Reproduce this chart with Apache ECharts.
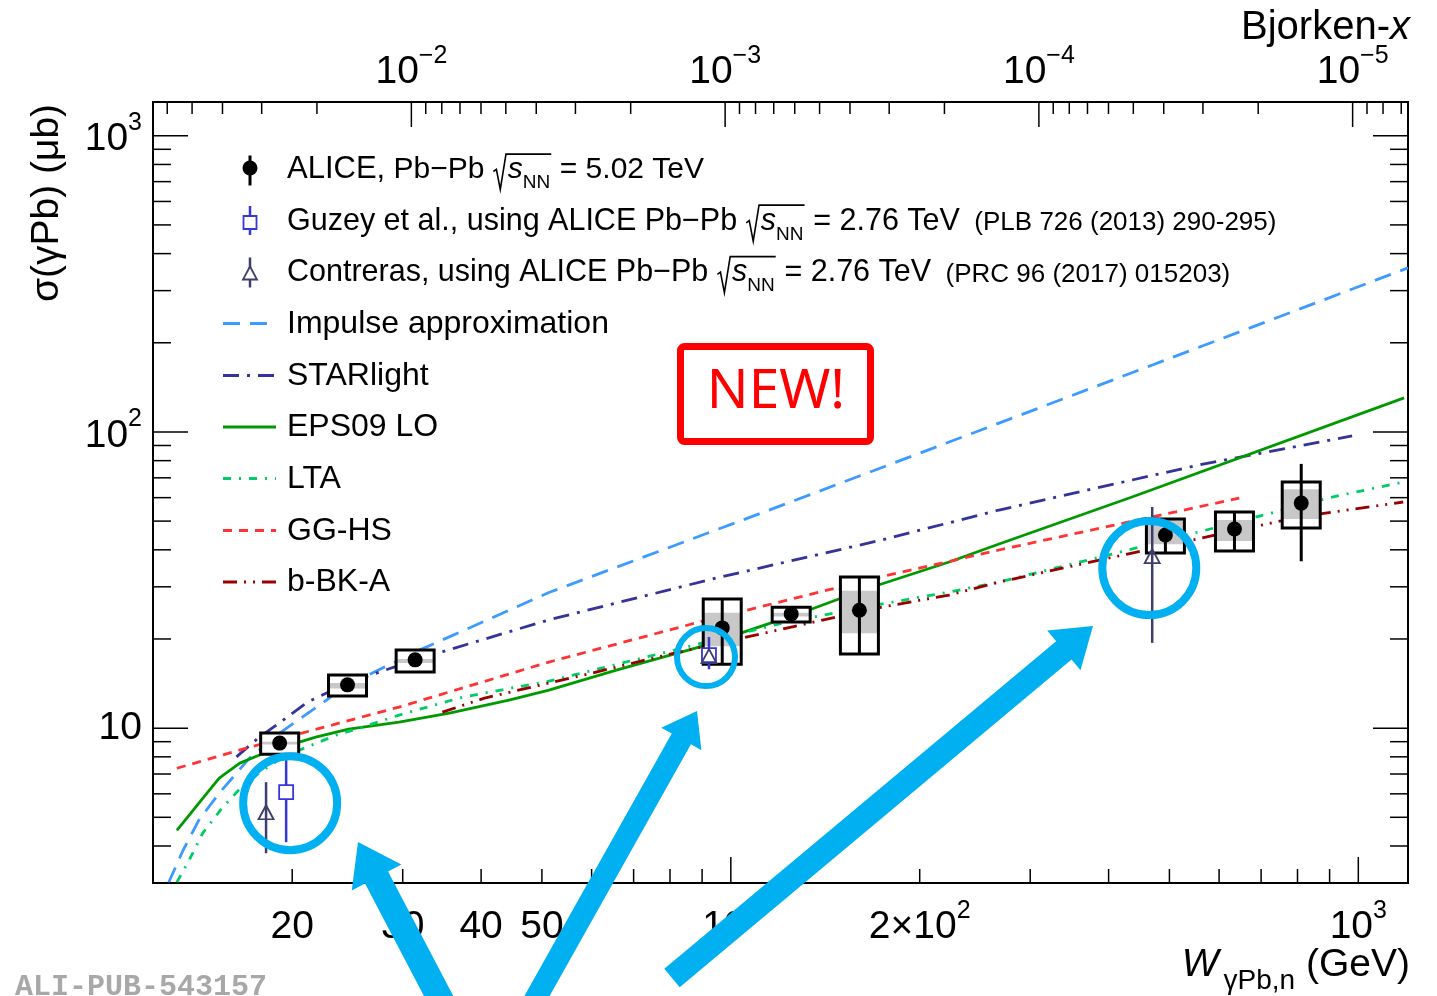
<!DOCTYPE html>
<html>
<head>
<meta charset="utf-8">
<title>Coherent J/psi photoproduction off Pb</title>
<script src="https://cdn.jsdelivr.net/npm/echarts@6/dist/echarts.min.js"></script>
<style>
  html, body { margin: 0; padding: 0; background: #ffffff; }
  #chart { width: 1437px; height: 996px; }
</style>
</head>
<body>
<div id="chart"></div>
<script>
// ---------------- axis ranges ----------------
const W_MIN = 12, W_MAX = 1200;          // GeV
const SIG_MIN = 3, SIG_MAX = 1300;       // microbarn
const M_JPSI = 3.097;                    // GeV, Bjorken-x = (M/W)^2

// ---------------- ALICE Pb-Pb 5.02 TeV ----------------
const aliceW        = [19.1, 24.5, 31.4, 96.9, 124.8, 160.3, 492.7, 634.8, 811];
const aliceSigma    = [8.9, 14.0, 17.0, 21.8, 24.3, 25.0, 44.9, 47.0, 57.5];
const aliceStatLow  = [8.6, 13.6, 16.6, 16.5, 23.6, 17.9, 38.8, 39.6, 36.6];
const aliceStatHigh = [9.2, 14.4, 17.4, 27.2, 25.0, 32.3, 51.0, 53.7, 78.0];
const aliceSysLow   = [8.17, 12.83, 15.46, 16.44, 22.8, 17.8, 39.0, 39.6, 47.4];
const aliceSysHigh  = [9.62, 15.1, 18.34, 27.3, 25.6, 32.4, 50.8, 53.7, 67.7];
const aliceCorrLow  = [8.8, 13.6, 16.6, 18.9, 23.8, 20.9, 41.8, 42.8, 50.8];
const aliceCorrHigh = [9.0, 14.2, 17.1, 24.5, 24.5, 29.1, 50.8, 50.4, 64.1];

// ---------------- Guzey et al. (ALICE 2.76 TeV) ----------------
const guzeyW     = [19.56, 92.3];
const guzeySigma = [6.08, 17.65];
const guzeyLow   = [4.12, 15.8];
const guzeyHigh  = [7.8, 20.3];

// ---------------- Contreras (ALICE 2.76 TeV) ----------------
const contrerasW     = [18.17, 92.3, 469.4];
const contrerasSigma = [5.2, 17.5, 38.1];
const contrerasLow   = [3.78, 16.5, 19.4];
const contrerasHigh  = [6.57, 18.6, 55.8];

// ---------------- model curves ----------------
const impulseW      = [12.7, 13.4, 14.2, 15.3, 17.1, 19.1, 22.1, 24.5, 31.9, 51.3, 127, 310, 1200];
const impulseSigma  = [3.0, 3.87, 4.89, 6.03, 7.92, 9.62, 11.96, 13.97, 18.34, 28.7, 58.9, 120.5, 358];
const starlightW     = [16.3, 17.7, 19.3, 21.1, 24.5, 31.4, 51.3, 94.7, 174.2, 267.6, 557.6, 977.5];
const starlightSigma = [8.0, 9.3, 10.6, 12.2, 14.2, 17.0, 23.2, 32.1, 43.2, 54.5, 77.4, 96.9];
const eps09W     = [13.1, 14.2, 15.3, 16.5, 17.7, 19.8, 21.8, 24.6, 29.6, 35.6, 44.3, 51.3, 65.7, 89.0, 133.3, 162.5, 222.8, 267.6, 435.9, 1183];
const eps09Sigma = [4.52, 5.58, 6.78, 7.62, 8.10, 8.76, 9.32, 9.92, 10.48, 11.24, 12.43, 13.44, 15.70, 18.77, 25.04, 29.26, 36.37, 41.84, 60.3, 130.3];
const ltaW     = [13.1, 13.7, 14.4, 15.5, 16.6, 17.7, 19.3, 21.1, 23.5, 25.9, 29.6, 37.4, 51.3, 81.2, 104.2, 120.7, 170.4, 222.8, 267.6, 411.4, 572.3, 908.7, 1183];
const ltaSigma = [3.02, 3.58, 4.42, 5.41, 6.32, 7.05, 7.98, 8.63, 9.47, 10.08, 11.07, 12.73, 14.41, 18.34, 20.94, 22.62, 26.03, 28.81, 31.13, 39.01, 46.66, 60.3, 67.8];
const gghsW     = [13.1, 16.9, 19.9, 29.6, 51.3, 89.0, 170.4, 267.6, 646];
const gghsSigma = [7.32, 8.56, 9.40, 11.78, 16.71, 22.81, 32.13, 39.94, 59.8];
const bbkW     = [34.7, 40.5, 51.3, 60.1, 75.2, 105.8, 133.3, 174.2, 222.8, 267.6, 435.9, 804.5, 1179];
const bbkSigma = [11.32, 12.63, 14.19, 15.34, 17.24, 20.30, 22.62, 25.63, 28.14, 31.13, 39.01, 51.6, 58.0];

// ---------------- tick labels ----------------
const xLabelValues = [20, 30, 40, 50, 100, 200, 1000];
const xLabelTexts  = ['20', '30', '40', '50', '10^2', '2\u00d710^2', '10^3'];
const yLabelValues = [10, 100, 1000];
const yLabelTexts  = ['10', '10^2', '10^3'];
const bjorkenLabelValues = [1e-2, 1e-3, 1e-4, 1e-5];
const bjorkenLabelTexts  = ['10^\u22122', '10^\u22123', '10^\u22124', '10^\u22125'];

// ---------------- highlighted points (W, sigma) ----------------
const highlightW      = [19.85, 91.3, 464.4];
const highlightSigma  = [5.58, 17.38, 34.7];
const highlightRadius = [47, 29, 47];

// ---------------- text helpers ----------------
const FONT = "'Liberation Sans', Arial, Helvetica, sans-serif";
const MID = 0.35; // baseline offset below the em middle, in font sizes
const measureCtx = document.createElement('canvas').getContext('2d');
function fontStr(size, italic) { return (italic ? 'italic ' : '') + size + 'px ' + FONT; }
function textWidth(t, f) { measureCtx.font = f; return measureCtx.measureText(t).width; }

// Lays out a run of text pieces (with optional sub/superscript shifts and a square root)
// on a common baseline and returns zrender element specs.
function runElements(segs, x, baseline, align, color) {
  const items = [];
  let cx = 0;
  const addPiece = (q) => {
    const f = fontStr(q.size, q.italic);
    cx += q.pad || 0;
    const w = textWidth(q.t, f);
    items.push({ t: q.t, f: f, size: q.size, x: cx, dy: q.dy || 0 });
    cx += w;
  };
  segs.forEach((s) => {
    if (s.sqrt) {
      const start = cx;
      cx += 0.5 * s.size;
      s.sqrt.forEach(addPiece);
      items.push({ radical: true, x0: start, x1: cx + 1, S: s.size });
      cx += 0.04 * s.size;
    } else {
      addPiece(s);
    }
  });
  const off = align === 'right' ? -cx : (align === 'center' ? -cx / 2 : 0);
  const els = [];
  items.forEach((it) => {
    if (it.radical) {
      const x0 = x + off + it.x0, x1 = x + off + it.x1, S = it.S, b = baseline;
      els.push({
        type: 'polyline',
        shape: { points: [[x0 + 0.02 * S, b - 0.30 * S], [x0 + 0.12 * S, b - 0.37 * S], [x0 + 0.25 * S, b + 0.30 * S], [x0 + 0.44 * S, b - 0.88 * S], [x1, b - 0.88 * S]] },
        style: { stroke: color, lineWidth: 1.6, fill: 'none' }
      });
    } else {
      els.push({
        type: 'text',
        x: x + off + it.x,
        y: baseline + it.dy - MID * it.size,
        style: { text: it.t, font: it.f, fill: color, align: 'left', verticalAlign: 'middle' }
      });
    }
  });
  return els;
}

function labelSegs(str, size, supSize) {
  const parts = str.split('^');
  const segs = [{ t: parts[0], size: size }];
  if (parts.length > 1) segs.push({ t: parts[1], size: supSize, dy: -0.55 * size });
  return segs;
}

// tick positions 1..9 x 10^k inside [lo, hi]; flag 1 marks a decade
function logTicks(lo, hi) {
  const out = [];
  for (let e = Math.floor(Math.log10(lo)) - 1; e <= Math.ceil(Math.log10(hi)); e++) {
    for (let m = 1; m <= 9; m++) {
      const v = m * Math.pow(10, e);
      if (v >= lo * 0.9999 && v <= hi * 1.0001) out.push([v, m === 1 ? 1 : 0]);
    }
  }
  return out;
}

const zip = (xs, ys) => xs.map((x, i) => [x, ys[i]]);

// ---------------- styles ----------------
const MODELS = [
  { name: 'Impulse approximation', xs: impulseW, ys: impulseSigma, color: '#3d9bff', dash: [17, 10] },
  { name: 'STARlight', xs: starlightW, ys: starlightSigma, color: '#333399', dash: [16, 8, 3, 8] },
  { name: 'EPS09 LO', xs: eps09W, ys: eps09Sigma, color: '#009900', dash: 'solid' },
  { name: 'LTA', xs: ltaW, ys: ltaSigma, color: '#00cc66', dash: [8, 8, 2, 8] },
  { name: 'GG-HS', xs: gghsW, ys: gghsSigma, color: '#ff3333', dash: [9, 7] },
  { name: 'b-BK-A', xs: bbkW, ys: bbkSigma, color: '#990000', dash: [14, 7, 2, 7, 2, 7] }
];
const LINE_W = 2.8;
const GUZEY_COLOR = '#3737d2';
const CONTRERAS_COLOR = '#3d3d6e';
const BOX_HALF_PX = 19;

const BJ_MIN = Math.pow(M_JPSI / W_MAX, 2);
const BJ_MAX = Math.pow(M_JPSI / W_MIN, 2);

const chart = echarts.init(document.getElementById('chart'), null, { renderer: 'canvas', width: 1437, height: 996 });

const series = [];

MODELS.forEach((m) => {
  series.push({
    name: m.name, type: 'line', xAxisIndex: 0, yAxisIndex: 0, z: 2,
    data: zip(m.xs, m.ys), showSymbol: false, symbol: 'none', smooth: false, clip: true, silent: true,
    lineStyle: { color: m.color, width: LINE_W, type: m.dash }
  });
});

// systematic boxes with the correlated part shaded
series.push({
  name: 'ALICE syst', type: 'custom', xAxisIndex: 0, yAxisIndex: 0, z: 3, clip: true, silent: true,
  data: aliceW.map((w, i) => [w, aliceSysLow[i], aliceSysHigh[i], aliceCorrLow[i], aliceCorrHigh[i]]),
  renderItem(params, api) {
    const w = api.value(0);
    const pLo = api.coord([w, api.value(1)]), pHi = api.coord([w, api.value(2)]);
    const cLo = api.coord([w, api.value(3)]), cHi = api.coord([w, api.value(4)]);
    const x0 = pLo[0] - BOX_HALF_PX;
    return {
      type: 'group',
      children: [
        { type: 'rect', shape: { x: x0, y: pHi[1], width: 2 * BOX_HALF_PX, height: pLo[1] - pHi[1] }, style: { fill: '#ffffff' } },
        { type: 'rect', shape: { x: x0, y: cHi[1], width: 2 * BOX_HALF_PX, height: Math.max(cLo[1] - cHi[1], 2) }, style: { fill: '#c8c8c8' } },
        { type: 'rect', shape: { x: x0, y: pHi[1], width: 2 * BOX_HALF_PX, height: pLo[1] - pHi[1] }, style: { fill: 'none', stroke: '#000000', lineWidth: 3 } }
      ]
    };
  }
});

function errorBarSeries(name, xs, lo, hi, color, width, z) {
  return {
    name: name, type: 'custom', xAxisIndex: 0, yAxisIndex: 0, z: z, clip: true, silent: true,
    data: xs.map((w, i) => [w, lo[i], hi[i]]),
    renderItem(params, api) {
      const a = api.coord([api.value(0), api.value(1)]);
      const b = api.coord([api.value(0), api.value(2)]);
      return { type: 'line', shape: { x1: a[0], y1: a[1], x2: b[0], y2: b[1] }, style: { stroke: color, lineWidth: width } };
    }
  };
}
series.push(errorBarSeries('Contreras err', contrerasW, contrerasLow, contrerasHigh, CONTRERAS_COLOR, 2.5, 4));
series.push(errorBarSeries('Guzey err', guzeyW, guzeyLow, guzeyHigh, GUZEY_COLOR, 2.5, 4));
series.push(errorBarSeries('ALICE stat', aliceW, aliceStatLow, aliceStatHigh, '#000000', 3, 4));

series.push({
  name: 'Guzey et al.', type: 'scatter', xAxisIndex: 0, yAxisIndex: 0, z: 5, silent: true,
  data: zip(guzeyW, guzeySigma), symbol: 'rect', symbolSize: 14,
  itemStyle: { color: '#ffffff', borderColor: GUZEY_COLOR, borderWidth: 1.8, opacity: 1 }
});
series.push({
  name: 'Contreras', type: 'scatter', xAxisIndex: 0, yAxisIndex: 0, z: 5, silent: true,
  data: zip(contrerasW, contrerasSigma), symbol: 'triangle', symbolSize: [15, 14],
  itemStyle: { color: 'rgba(255,255,255,0.0)', borderColor: CONTRERAS_COLOR, borderWidth: 1.8, opacity: 1 }
});
series.push({
  name: 'ALICE', type: 'scatter', xAxisIndex: 0, yAxisIndex: 0, z: 6, silent: true,
  data: zip(aliceW, aliceSigma), symbol: 'circle', symbolSize: 15,
  itemStyle: { color: '#000000', opacity: 1 }
});

// ---- frame ticks ----
series.push({
  name: 'W ticks', type: 'custom', xAxisIndex: 0, yAxisIndex: 0, z: 7, clip: false, silent: true,
  data: logTicks(W_MIN, W_MAX).map(([v, maj]) => [v, SIG_MIN, maj]),
  renderItem(params, api) {
    const cs = params.coordSys;
    const x = api.coord([api.value(0), SIG_MIN])[0];
    const yb = cs.y + cs.height;
    const len = api.value(2) ? 26 : 14;
    return { type: 'line', shape: { x1: x, y1: yb, x2: x, y2: yb - len }, style: { stroke: '#000', lineWidth: 1.5 } };
  }
});
series.push({
  name: 'x ticks', type: 'custom', xAxisIndex: 1, yAxisIndex: 0, z: 7, clip: false, silent: true,
  data: logTicks(BJ_MIN, BJ_MAX).map(([v, maj]) => [v, SIG_MIN, maj]),
  renderItem(params, api) {
    const cs = params.coordSys;
    const x = api.coord([api.value(0), SIG_MIN])[0];
    const len = api.value(2) ? 25 : 12;
    return { type: 'line', shape: { x1: x, y1: cs.y, x2: x, y2: cs.y + len }, style: { stroke: '#000', lineWidth: 1.5 } };
  }
});
series.push({
  name: 'sigma ticks', type: 'custom', xAxisIndex: 0, yAxisIndex: 0, z: 7, clip: false, silent: true,
  data: logTicks(SIG_MIN, SIG_MAX).map(([v, maj]) => [W_MIN, v, maj]),
  renderItem(params, api) {
    const cs = params.coordSys;
    const y = api.coord([W_MIN, api.value(1)])[1];
    const len = api.value(2) ? 35 : 18;
    const xr = cs.x + cs.width;
    return {
      type: 'group',
      children: [
        { type: 'line', shape: { x1: cs.x, y1: y, x2: cs.x + len, y2: y }, style: { stroke: '#000', lineWidth: 1.5 } },
        { type: 'line', shape: { x1: xr, y1: y, x2: xr - len, y2: y }, style: { stroke: '#000', lineWidth: 1.5 } }
      ]
    };
  }
});

// ---- tick labels ----
const LABEL_SIZE = 39, SUP_SIZE = 25;
series.push({
  name: 'W labels', type: 'custom', xAxisIndex: 0, yAxisIndex: 0, z: 8, clip: false, silent: true,
  data: xLabelValues.map((v, i) => [v, SIG_MIN, i]),
  renderItem(params, api) {
    const cs = params.coordSys;
    const x = api.coord([api.value(0), SIG_MIN])[0];
    const txt = xLabelTexts[api.value(2)];
    return { type: 'group', children: runElements(labelSegs(txt, LABEL_SIZE, SUP_SIZE), x, cs.y + cs.height + 58, 'center', '#000') };
  }
});
series.push({
  name: 'x labels', type: 'custom', xAxisIndex: 1, yAxisIndex: 0, z: 8, clip: false, silent: true,
  data: bjorkenLabelValues.map((v, i) => [v, SIG_MIN, i]),
  renderItem(params, api) {
    const x = api.coord([api.value(0), SIG_MIN])[0];
    const txt = bjorkenLabelTexts[api.value(2)];
    return { type: 'group', children: runElements(labelSegs(txt, LABEL_SIZE, SUP_SIZE), x, 86, 'center', '#000') };
  }
});
series.push({
  name: 'sigma labels', type: 'custom', xAxisIndex: 0, yAxisIndex: 0, z: 8, clip: false, silent: true,
  data: yLabelValues.map((v, i) => [W_MIN, v, i]),
  renderItem(params, api) {
    const cs = params.coordSys;
    const y = api.coord([W_MIN, api.value(1)])[1];
    const txt = yLabelTexts[api.value(2)];
    const shift = txt.indexOf('^') >= 0 ? 4 : 0;
    return { type: 'group', children: runElements(labelSegs(txt, LABEL_SIZE, SUP_SIZE), cs.x - 11, y + MID * LABEL_SIZE + shift, 'right', '#000') };
  }
});

chart.setOption({
  animation: false,
  backgroundColor: '#ffffff',
  grid: { left: 153, top: 102, width: 1255, height: 781, show: true, borderColor: '#000000', borderWidth: 2, backgroundColor: 'rgba(0,0,0,0)' },
  xAxis: [
    { type: 'log', logBase: 10, min: W_MIN, max: W_MAX, show: false, gridIndex: 0 },
    { type: 'log', logBase: 10, min: BJ_MIN, max: BJ_MAX, inverse: true, position: 'top', show: false, gridIndex: 0 }
  ],
  yAxis: [
    { type: 'log', logBase: 10, min: SIG_MIN, max: SIG_MAX, show: false, gridIndex: 0 }
  ],
  series: series
});

// ---------------- legend, titles and annotations ----------------
const els = [];
const LEG_TEXT_X = 287, LEG_MARK_X = 250;
const rowBase = [180.5, 232, 283.5, 335, 387, 438.5, 490, 542, 593.5];
const S1 = 30.5, SM = 32, SR = 26;
const rootSNN = (size) => ({ sqrt: [{ t: 's', size: size, italic: true }, { t: 'NN', size: 19, dy: 9 }], size: size });

const legendRows = [
  [{ t: 'ALICE,', size: 31 }, { t: ' Pb\u2212Pb ', size: 30 }, rootSNN(30), { t: ' = 5.02 TeV', size: 30 }],
  [{ t: 'Guzey et al., using ALICE Pb\u2212Pb ', size: S1 }, rootSNN(S1), { t: ' = 2.76 TeV', size: S1 }, { t: '  (PLB 726 (2013) 290-295)', size: SR }],
  [{ t: 'Contreras, using ALICE Pb\u2212Pb ', size: S1 }, rootSNN(S1), { t: ' = 2.76 TeV', size: S1 }, { t: '  (PRC 96 (2017) 015203)', size: SR }]
];
legendRows.forEach((segs, i) => { runElements(segs, LEG_TEXT_X, rowBase[i], 'left', '#000').forEach((e) => els.push(e)); });

// data markers in the legend
{
  const b = rowBase[0];
  els.push({ type: 'line', shape: { x1: LEG_MARK_X, y1: b - 25, x2: LEG_MARK_X, y2: b + 5 }, style: { stroke: '#000', lineWidth: 3 } });
  els.push({ type: 'circle', shape: { cx: LEG_MARK_X, cy: b - 12.5, r: 7.5 }, style: { fill: '#000' } });
  const b2 = rowBase[1];
  els.push({ type: 'line', shape: { x1: LEG_MARK_X, y1: b2 - 26, x2: LEG_MARK_X, y2: b2 + 3 }, style: { stroke: GUZEY_COLOR, lineWidth: 2.5 } });
  els.push({ type: 'rect', shape: { x: LEG_MARK_X - 6.5, y: b2 - 16, width: 13, height: 13 }, style: { fill: '#fff', stroke: GUZEY_COLOR, lineWidth: 1.8 } });
  const b3 = rowBase[2];
  els.push({ type: 'line', shape: { x1: LEG_MARK_X, y1: b3 - 26, x2: LEG_MARK_X, y2: b3 + 4 }, style: { stroke: CONTRERAS_COLOR, lineWidth: 2.5 } });
  els.push({ type: 'polygon', shape: { points: [[LEG_MARK_X, b3 - 17], [LEG_MARK_X - 7, b3 - 4], [LEG_MARK_X + 7, b3 - 4]] }, style: { fill: '#fff', stroke: CONTRERAS_COLOR, lineWidth: 1.8 } });
}
// model lines in the legend
MODELS.forEach((m, i) => {
  const b = rowBase[3 + i];
  els.push({ type: 'line', shape: { x1: 223, y1: b - 11.5, x2: 276, y2: b - 11.5 }, style: { stroke: m.color, lineWidth: LINE_W, lineDash: m.dash === 'solid' ? null : m.dash } });
  runElements([{ t: m.name, size: SM }], LEG_TEXT_X, b, 'left', '#000').forEach((e) => els.push(e));
});

// axis titles
runElements([{ t: 'Bjorken-', size: 40 }, { t: 'x', size: 40, italic: true }], 1410, 42, 'right', '#000').forEach((e) => els.push(e));
runElements([{ t: 'W', size: 39, italic: true }, { t: '\u03b3Pb,n', size: 28, dy: 12, pad: 5 }, { t: ' (GeV)', size: 39 }], 1410, 979, 'right', '#000').forEach((e) => els.push(e));
els.push({
  type: 'text', x: 47, y: 203, rotation: Math.PI / 2,
  style: { text: '\u03c3(\u03b3Pb) (\u03bcb)', font: '39px ' + FONT, fill: '#000', align: 'center', verticalAlign: 'middle' }
});

// publication tag
els.push({
  type: 'text', x: 15, y: 987,
  style: { text: 'ALI-PUB-543157', font: "bold 30px 'Liberation Mono', 'DejaVu Sans Mono', monospace", fill: '#a8a8a8', align: 'left', verticalAlign: 'middle' }
});

// "NEW!" stamp
els.push({ type: 'rect', z: 50, shape: { x: 680.5, y: 346.5, width: 190, height: 95, r: 4 }, style: { fill: '#fff', stroke: '#ff0000', lineWidth: 7 } });
els.push({ type: 'text', z: 51, x: 776, y: 392, style: { text: 'NEW!', font: "55px 'Noto Sans', 'Open Sans', sans-serif", fill: '#ff0000', align: 'center', verticalAlign: 'middle' } });

// highlight rings around points
const CYAN = '#00b0f0';
highlightW.forEach((w, i) => {
  const p = chart.convertToPixel({ xAxisIndex: 0, yAxisIndex: 0 }, [w, highlightSigma[i]]);
  els.push({ type: 'circle', z: 60, shape: { cx: p[0], cy: p[1], r: highlightRadius[i] }, style: { fill: 'none', stroke: CYAN, lineWidth: i === 1 ? 6 : 8 } });
});

// block arrows
function arrowPoints(tail, tip, shaftW, headW, headL) {
  const dx = tip[0] - tail[0], dy = tip[1] - tail[1];
  const L = Math.hypot(dx, dy);
  const ux = dx / L, uy = dy / L, nx = -uy, ny = ux;
  const bx = tip[0] - ux * headL, by = tip[1] - uy * headL;
  return [
    [tail[0] + nx * shaftW / 2, tail[1] + ny * shaftW / 2],
    [bx + nx * shaftW / 2, by + ny * shaftW / 2],
    [bx + nx * headW / 2, by + ny * headW / 2],
    [tip[0], tip[1]],
    [bx - nx * headW / 2, by - ny * headW / 2],
    [bx - nx * shaftW / 2, by - ny * shaftW / 2],
    [tail[0] - nx * shaftW / 2, tail[1] - ny * shaftW / 2]
  ];
}
[
  { tail: [447, 1012], tip: [358, 842], shaft: 26, head: 56, len: 40 },
  { tail: [528, 1012], tip: [697, 711], shaft: 22, head: 46, len: 32 },
  { tail: [672, 978], tip: [1093, 626], shaft: 24, head: 52, len: 38 }
].forEach((a) => {
  els.push({ type: 'polygon', z: 60, shape: { points: arrowPoints(a.tail, a.tip, a.shaft, a.head, a.len) }, style: { fill: CYAN } });
});

chart.setOption({ graphic: { elements: els.map((e) => Object.assign({ z: e.z || 20 }, e)) } });
</script>
</body>
</html>
